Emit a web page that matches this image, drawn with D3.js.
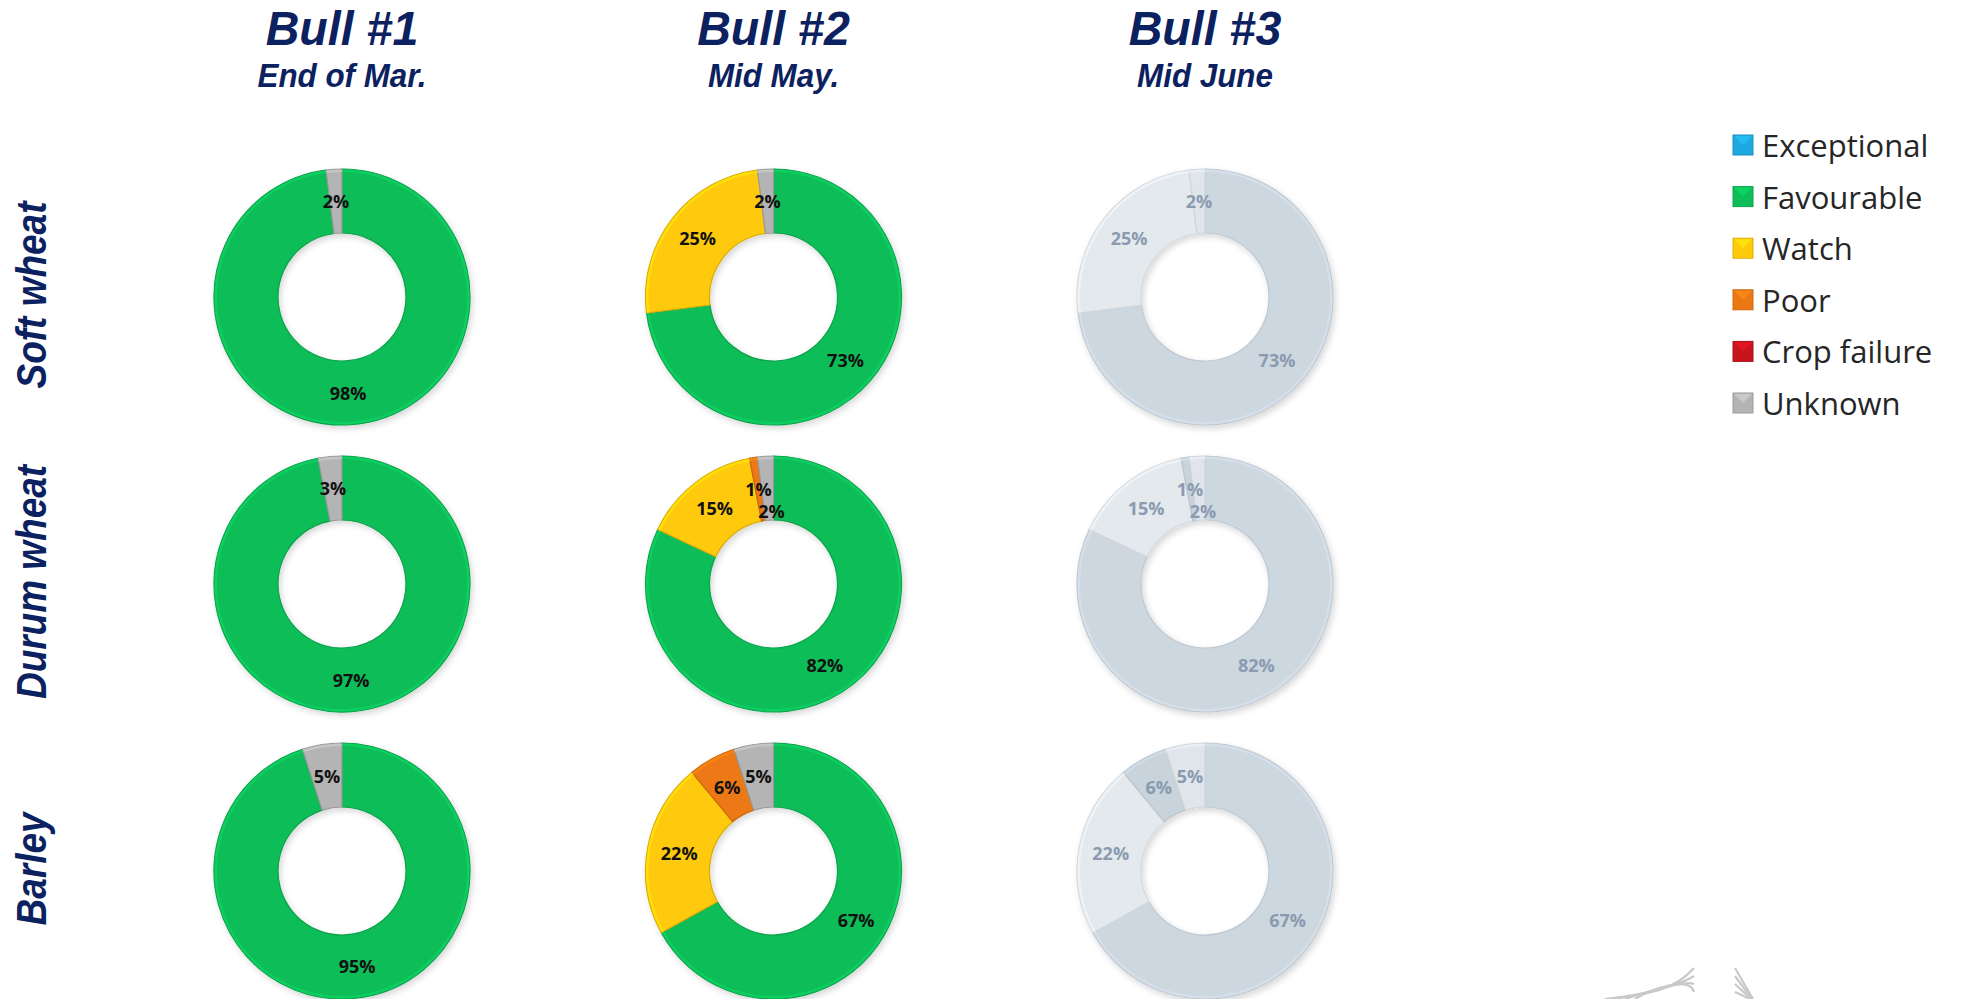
<!DOCTYPE html>
<html>
<head>
<meta charset="utf-8">
<script src="https://cdn.jsdelivr.net/npm/d3@7"></script>
<style>
  html, body { margin: 0; padding: 0; background: #ffffff; }
  svg { display: block; }
</style>
</head>
<body>
<svg id="chart" width="1962" height="999"></svg>
<script>
// ---------------- DATA ----------------
const bulletins = ["Bull #1", "Bull #2", "Bull #3"];
const periods = ["End of Mar.", "Mid May.", "Mid June"];
const crops = ["Soft wheat", "Durum wheat", "Barley"];
const classes = ["Exceptional", "Favourable", "Watch", "Poor", "Crop failure", "Unknown"];
const classColors = ["#1fa8e0", "#0cbd58", "#ffca08", "#ec7814", "#c8141c", "#b4b4b4"];
const fadedColors = ["#d6dee6", "#cdd7e0", "#e4e9ee", "#c8d3dc", "#c8d2dc", "#dfe5eb"];
// shares (%) per class, in the order of `classes`, for Bull #1, #2, #3
const softWheat  = [[0, 98, 0, 0, 0, 2], [0, 73, 25, 0, 0, 2], [0, 73, 25, 0, 0, 2]];
const durumWheat = [[0, 97, 0, 0, 0, 3], [0, 82, 15, 1, 0, 2], [0, 82, 15, 1, 0, 2]];
const barley     = [[0, 95, 0, 0, 0, 5], [0, 67, 22, 6, 0, 5], [0, 67, 22, 6, 0, 5]];
const cropValues = [softWheat, durumWheat, barley];
const fadedBulletins = ["Bull #3"];

// ---------------- LAYOUT ----------------
const svg = d3.select("#chart");
const navy = "#0c2160";
const outerR = 128, innerR = 64;

const xCol = d3.scalePoint().domain(bulletins).range([342, 1205]);
const yRow = d3.scalePoint().domain(crops).range([297, 871]);
const yLegend = d3.scalePoint().domain(classes).range([145, 403]);

// ---------------- FILTERS ----------------
const defs = svg.append("defs");
const shadow = defs.append("filter").attr("id", "shadow")
  .attr("x", "-10%").attr("y", "-10%").attr("width", "125%").attr("height", "125%");
shadow.append("feDropShadow").attr("dx", 2).attr("dy", 3).attr("stdDeviation", 3)
  .attr("flood-color", "#000").attr("flood-opacity", 0.16);

// ---------------- TITLES ----------------
function condensed(sel, factor) {
  sel.each(function () {
    const t = d3.select(this);
    const w = this.getComputedTextLength();
    t.attr("textLength", w * factor).attr("lengthAdjust", "spacingAndGlyphs");
  });
}

svg.append("g").selectAll("text.title").data(bulletins).join("text")
  .attr("class", "title")
  .attr("x", d => xCol(d)).attr("y", 45)
  .attr("text-anchor", "middle")
  .attr("font-family", "'Liberation Sans', Arial, sans-serif")
  .attr("font-weight", "bold").attr("font-style", "italic")
  .attr("font-size", 49).attr("fill", navy)
  .text(d => d)
  .call(condensed, 0.95);

svg.append("g").selectAll("text.sub").data(bulletins).join("text")
  .attr("class", "sub")
  .attr("x", d => xCol(d)).attr("y", 87)
  .attr("text-anchor", "middle")
  .attr("font-family", "'Liberation Sans', Arial, sans-serif")
  .attr("font-weight", "bold").attr("font-style", "italic")
  .attr("font-size", 33).attr("fill", navy)
  .text((d, i) => periods[i])
  .call(condensed, 0.95);

svg.append("g").selectAll("text.row").data(crops).join("text")
  .attr("class", "row")
  .attr("transform", d => `translate(46,${yRow(d) - 2}) rotate(-90)`)
  .attr("text-anchor", "middle")
  .attr("font-family", "'Liberation Sans', Arial, sans-serif")
  .attr("font-weight", "bold").attr("font-style", "italic")
  .attr("font-size", 42).attr("fill", navy)
  .text(d => d)
  .call(condensed, 0.88);

// ---------------- DONUTS ----------------
const pie = d3.pie().sort(null).value(d => d.value);
const arc = d3.arc().innerRadius(innerR).outerRadius(outerR);
const edgeArc = d3.arc().innerRadius(outerR - 3).outerRadius(outerR - 0.5);
const labelArc = d3.arc().innerRadius((innerR + outerR) / 2).outerRadius((innerR + outerR) / 2);

crops.forEach((crop, ci) => {
  bulletins.forEach((bull, bi) => {
    const faded = fadedBulletins.includes(bull);
    const colors = faded ? fadedColors : classColors;
    const data = cropValues[ci][bi].map((v, k) => ({ cls: classes[k], value: v, k }));
    const arcs = pie(data).filter(a => a.data.value > 0);
    const g = svg.append("g").attr("transform", `translate(${xCol(bull)},${yRow(crop)})`);
    const ring = g.append("g").attr("filter", "url(#shadow)");
    ring.selectAll("path.seg").data(arcs).join("path")
      .attr("class", "seg")
      .attr("d", arc)
      .attr("fill", d => colors[d.data.k])
      .attr("stroke", d => d3.color(colors[d.data.k]).darker(faded ? 0.2 : 0.45))
      .attr("stroke-width", 1.2);
    // thin bevel highlight along the outer rim
    g.selectAll("path.edge").data(arcs).join("path")
      .attr("class", "edge")
      .attr("d", edgeArc)
      .attr("fill", d => d3.color(colors[d.data.k]).brighter(faded ? 0.15 : 0.35))
      .attr("opacity", 0.7);

    // label placement with simple overlap avoidance
    const placed = [];
    arcs.forEach(a => {
      let [lx, ly] = labelArc.centroid(a);
      placed.forEach(p => {
        if (Math.abs(p[0] - lx) < 30 && Math.abs(p[1] - ly) < 20) { ly = p[1] + 22; lx += 4; }
      });
      placed.push([lx, ly]);
      a.lx = lx; a.ly = ly;
    });
    g.selectAll("text").data(arcs).join("text")
      .attr("x", d => d.lx).attr("y", d => d.ly)
      .attr("text-anchor", "middle").attr("dominant-baseline", "central")
      .attr("font-family", "'Open Sans', 'Noto Sans', sans-serif")
      .attr("font-weight", "bold").attr("font-size", 18)
      .attr("fill", faded ? "#8a9bb0" : "#111111")
      .text(d => d.data.value + "%");
  });
});

// ---------------- LEGEND ----------------
const legend = svg.append("g");
const li = legend.selectAll("g").data(classes).join("g")
  .attr("transform", d => `translate(1733,${yLegend(d)})`);
li.append("rect")
  .attr("x", 0).attr("y", -10).attr("width", 20).attr("height", 20)
  .attr("fill", (d, i) => classColors[i])
  .attr("stroke", (d, i) => d3.color(classColors[i]).darker(0.4))
  .attr("stroke-width", 1);
li.append("path")
  .attr("d", "M1,-9 L19,-9 L10,0 Z")
  .attr("fill", (d, i) => d3.color(classColors[i]).brighter(0.5))
  .attr("opacity", 0.6);
li.append("text")
  .attr("x", 29).attr("y", 0).attr("dominant-baseline", "central")
  .attr("font-family", "'Open Sans', 'Noto Sans', sans-serif")
  .attr("font-size", 31).attr("fill", "#262626")
  .text(d => d);

// ---------------- faint logo, bottom right ----------------
const logo = svg.append("g").attr("fill", "none").attr("stroke", "#c9c9c9").attr("stroke-width", 2.2);
[0, 5, 10, 15].forEach(o => {
  logo.append("path").attr("d", `M${1605 + o * 2},${999} C${1650},${994 - o * 0.3} ${1675 + o},${990 - o} ${1694},${968 + o * 1.6}`);
  logo.append("path").attr("d", `M${1735},${968 + o * 1.6} L${1753 - o * 0.2},${999}`);
});
</script>
</body>
</html>
